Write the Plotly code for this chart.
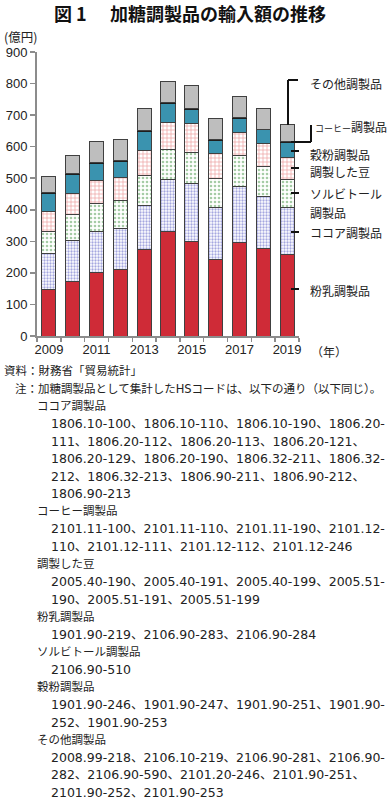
import plotly.graph_objects as go

# ---------------- data (億円) ----------------
years = [2009, 2010, 2011, 2012, 2013, 2014, 2015, 2016, 2017, 2018, 2019]
milk = [148, 173, 202, 212, 275, 331, 299, 242, 296, 277, 259]        # 粉乳調製品
cocoa = [113, 130, 128, 130, 138, 166, 184, 164, 178, 165, 148]       # ココア調製品
sorbitol = [70, 82, 91, 88, 96, 94, 99, 93, 98, 94, 89]               # ソルビトール調製品
beans = [62, 68, 72, 72, 80, 85, 91, 79, 73, 73, 69]                  # 調製した豆
grain = [58, 59, 55, 52, 58, 60, 46, 42, 44, 44, 47]                  # 穀粉調製品
coffee = [3, 3, 3, 3, 3, 3, 3, 3, 3, 3, 3]                            # コーヒー調製品
other = [53, 58, 66, 65, 71, 68, 72, 67, 67, 65, 55]                  # その他調製品
year_ticks = [2009, 2011, 2013, 2015, 2017, 2019]

title_a = "図 1"
title_b = "加糖調製品の輸入額の推移"

notes = [
    "資料：財務省「貿易統計」",
    "注：加糖調製品として集計したHSコードは、以下の通り（以下同じ）。",
    "ココア調製品",
    "1806.10-100、1806.10-110、1806.10-190、1806.20-",
    "111、1806.20-112、1806.20-113、1806.20-121、",
    "1806.20-129、1806.20-190、1806.32-211、1806.32-",
    "212、1806.32-213、1806.90-211、1806.90-212、",
    "1806.90-213",
    "コーヒー調製品",
    "2101.11-100、2101.11-110、2101.11-190、2101.12-",
    "110、2101.12-111、2101.12-112、2101.12-246",
    "調製した豆",
    "2005.40-190、2005.40-191、2005.40-199、2005.51-",
    "190、2005.51-191、2005.51-199",
    "粉乳調製品",
    "1901.90-219、2106.90-283、2106.90-284",
    "ソルビトール調製品",
    "2106.90-510",
    "穀粉調製品",
    "1901.90-246、1901.90-247、1901.90-251、1901.90-",
    "252、1901.90-253",
    "その他調製品",
    "2008.99-218、2106.10-219、2106.90-281、2106.90-",
    "282、2106.90-590、2101.20-246、2101.90-251、",
    "2101.90-252、2101.90-253",
]
# 0 = source line, 1 = note line, 2 = category heading, 3 = HS code line
note_kind = [0, 1, 2, 3, 3, 3, 3, 3, 2, 3, 3, 2, 3, 3, 2, 3, 2, 3, 2, 3, 3, 2, 3, 3, 3]

# ---------------- layout helpers ----------------
W, H = 392, 810
PL, PR, PT, PB = 37, 299, 52, 336


def px(xp):
    return (xp - PL) / (PR - PL)


def py(yp):
    return (PB - yp) / (PB - PT)


JP = "Noto Sans CJK JP"
MIX = "Liberation Sans, Arial, Noto Sans CJK JP"
CODE = "DejaVu Sans, Noto Sans CJK JP"
OUT = dict(color="#404040", width=1)

fig = go.Figure()


def add_bar(vals, name, color, pattern=None, line=OUT):
    marker = dict(color=color, line=line)
    if pattern:
        marker["pattern"] = pattern
    fig.add_trace(go.Bar(x=years, y=vals, name=name, marker=marker, hoverinfo="skip"))


add_bar(milk, "粉乳調製品", "#CF2B37")
add_bar(cocoa, "ココア調製品", "white",
        dict(shape=".", fgcolor="#4B4FC0", bgcolor="white", size=3, solidity=0.45, fillmode="overlay"))
add_bar(sorbitol, "ソルビトール調製品", "white",
        dict(shape=".", fgcolor="#4E9A4E", bgcolor="white", size=4, solidity=0.35, fillmode="overlay"))
add_bar(beans, "調製した豆", "white",
        dict(shape="+", fgcolor="#D83838", bgcolor="white", size=4, solidity=0.3, fillmode="overlay"))
add_bar(grain, "穀粉調製品", "#3A93AF")
add_bar(coffee, "コーヒー調製品", "#1E1E1E", line=dict(color="#1E1E1E", width=1))
add_bar(other, "その他調製品", "#BEBEBE")

annotations = []


def text(t, xp, yp, family=JP, size=12.5, color="#222"):
    annotations.append(dict(text=t, x=px(xp), y=py(yp), xref="paper", yref="paper",
                            xanchor="left", yanchor="middle", showarrow=False,
                            font=dict(family=family, size=size, color=color)))


# title
text("<b>" + title_a + "</b>", 52, 13, size=18, color="#111")
text("<b>" + title_b + "</b>", 108, 13, size=18, color="#111")
# unit labels
text("(億円)", 2, 37, size=12.5)
text("（年）", 309, 351, size=12)

# legend labels at right
labels = [
    ("その他調製品", 308, 84),
    ("<span style='font-size:9px'>コーヒー</span>調製品", 313, 126),
    ("穀粉調製品", 308, 154),
    ("調製した豆", 308, 171),
    ("ソルビトール", 308, 193),
    ("調製品", 308, 212),
    ("ココア調製品", 308, 233),
    ("粉乳調製品", 308, 290),
]
for t, xp, yp in labels:
    text(t, xp, yp, size=12)

# notes
indent = {0: 2, 1: 13, 2: 35, 3: 49}
for i, (line, kind) in enumerate(zip(notes, note_kind)):
    yp = 371 + i * 17.55
    if kind == 3:
        text(line, indent[kind], yp, family=CODE, size=12.5)
    else:
        text(line, indent[kind], yp, family=CODE, size=11.5)

# leader lines
LC = dict(color="#111", width=2)
shapes = []


def seg(x0, y0, x1, y1):
    shapes.append(dict(type="line", xref="paper", yref="paper",
                       x0=px(x0), y0=py(y0), x1=px(x1), y1=py(y1), line=LC))


seg(288, 80, 298, 80)
seg(288, 80, 288, 125)
seg(291, 142, 311, 142)
seg(311, 142, 311, 125)
for yp in [151, 168, 193, 232, 289]:
    seg(291, yp, 299, yp)

fig.update_layout(
    width=W, height=H,
    margin=dict(l=PL, r=W - PR, t=PT, b=H - PB, autoexpand=False),
    barmode="stack", bargap=0.41,
    plot_bgcolor="white", paper_bgcolor="white",
    showlegend=False, hovermode=False,
    annotations=annotations, shapes=shapes,
    font=dict(family=MIX, color="#222"),
)
fig.update_xaxes(
    range=[2008.5, 2019.5], tickvals=year_ticks, ticks="", showgrid=False,
    showline=True, linecolor="#8C8C8C", linewidth=2, automargin=False,
    tickfont=dict(family=MIX, size=13, color="#222"),
    minor=dict(tickvals=[y - 0.5 for y in years] + [2019.5], ticks="outside",
               ticklen=4, tickcolor="#8C8C8C", tickwidth=1.5, showgrid=False),
)
fig.update_yaxes(
    range=[0, 900], dtick=100, showgrid=False, zeroline=False,
    showline=True, linecolor="#8C8C8C", linewidth=2, automargin=False,
    ticks="outside", ticklen=5, tickcolor="#8C8C8C", tickwidth=1.5,
    tickfont=dict(family=MIX, size=13, color="#222"),
)

fig.write_html(
    "out.html",
    config={"displayModeBar": False, "staticPlot": True},
    post_script="document.body.style.margin='0';document.body.style.overflow='hidden';",
)
